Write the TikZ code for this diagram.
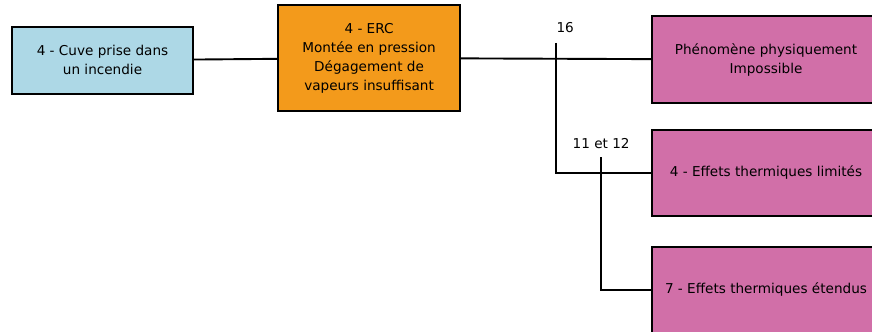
\documentclass[tikz,border=0pt]{standalone}
\usepackage{fontspec}
\setmainfont{DejaVu Sans}
\definecolor{cuvebleu}{RGB}{173,216,230}
\definecolor{ercorange}{RGB}{243,154,27}
\definecolor{effetrose}{RGB}{209,111,168}
\tikzset{
    boite/.style={draw=black, line width=1.7pt, align=center, inner sep=0pt,
        font=\fontsize{10}{14}\selectfont},
    lien/.style={line width=1.4pt},
    repere/.style={font=\fontsize{10}{12}\selectfont, inner sep=1pt}
}

\begin{document}
\begin{tikzpicture}[scale = 1]
    \clip(0,0) rectangle (22.54,8.58);
    \node[boite, fill=cuvebleu, minimum width=4.68cm, minimum height=1.73cm] (cuve) at (2.65,7.02) {4 - Cuve prise dans\\un incendie};
    \node[boite, fill=ercorange, minimum width=4.70cm, minimum height=2.74cm] (erc) at (9.54,7.08) {4 - ERC\\Montée en pression\\Dégagement de\\vapeurs insuffisant};
    \node[boite, fill=effetrose, minimum width=5.89cm, minimum height=2.25cm] (phys) at (19.80,7.04) {Phénomène physiquement\\Impossible};
    \node[boite, fill=effetrose, minimum width=5.89cm, minimum height=2.22cm] (limit) at (19.80,4.11) {4 - Effets thermiques limités};
    \node[boite, fill=effetrose, minimum width=5.89cm, minimum height=2.22cm] (etendu) at (19.80,1.09) {7 - Effets thermiques étendus};
    \coordinate (j16) at (14.37,7.47);
    \coordinate (j11) at (15.54,4.52);
    \draw[lien] (cuve) -- (erc);
    \draw[lien] (erc) -- (phys);
    \draw[lien] (j16) |- (limit);
    \draw[lien] (j11) |- (etendu);
    \node[repere] (l16) at (14.61,7.86) {16};
    \node[repere] (l11) at (15.54,4.86) {11 et 12};
\end{tikzpicture}
\end{document}
